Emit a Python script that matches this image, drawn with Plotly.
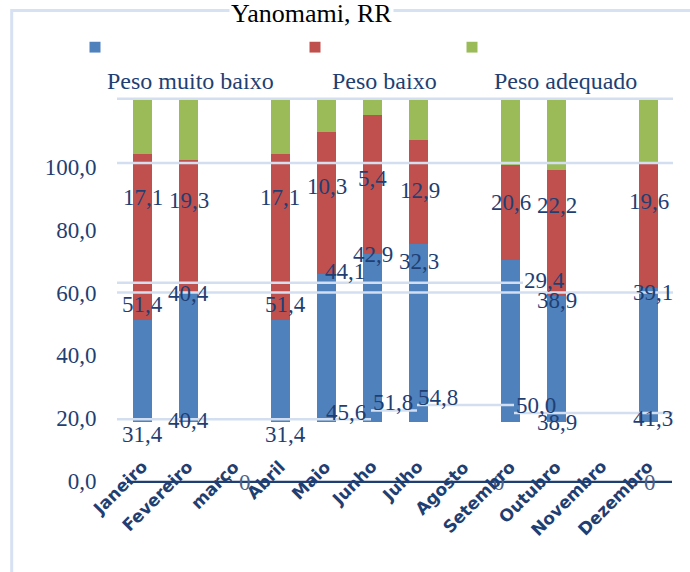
import plotly.graph_objects as go

# ---- data -------------------------------------------------------------
months = ["Janeiro", "Fevereiro", "março", "Abril", "Maio", "Junho",
          "Julho", "Agosto", "Setembro", "Outubro", "Novembro", "Dezembro"]
muito_baixo = [31.4, 40.4, 0, 31.4, 45.6, 51.8, 54.8, 0, 50.0, 38.9, 0, 41.3]
baixo = [51.4, 40.4, 0, 51.4, 44.1, 42.9, 32.3, 0, 29.4, 38.9, 0, 39.1]
adequado = [17.1, 19.3, 0, 17.1, 10.3, 5.4, 12.9, 0, 20.6, 22.2, 0, 19.6]
series_names = ["Peso muito baixo", "Peso baixo", "Peso adequado"]
y_ticks = [0, 20, 40, 60, 80, 100]
chart_title = "Yanomami, RR"

# ---- styling ----------------------------------------------------------
W, H = 690, 572
colors = ["#4f81bd", "#c0504d", "#9bbb59"]
text_color = "#1f3f73"
grid_color = "#d3dff0"
serif = "Liberation Serif"
sans = "DejaVu Sans"

# horizontal nudges (px) of the value labels, per month
dx_low = [0, 0, 10, 5, 19, 20, 19, 34, 25, 0, 47, 4]
dx_mid = [0, 0, 0, 5, 18, 0, 0, 0, 34, 0, 0, 4]
dx_top = [0, 0, 0, -1, 0, 0, 1, 0, 0, 0, 0, 0]


def px(x):
    return x / W


def py(y):
    return 1 - y / H


plot_left, plot_right = 119.5, 671.5
plot_top, plot_bottom = 100.0, 492.0

series = [muito_baixo, baixo, adequado]

fig = go.Figure()
for name, vals, col in zip(series_names, series, colors):
    fig.add_trace(go.Bar(
        x=months, y=vals, name=name, yaxis="y2",
        marker=dict(color=col, line=dict(width=0)),
        width=0.43, showlegend=False, hoverinfo="skip",
    ))

annotations = []

# value labels, centred on each segment of the left scale
for i, m in enumerate(months):
    total = muito_baixo[i] + baixo[i] + adequado[i]
    if total == 0:
        annotations.append(dict(
            x=m, xref="x", y=0, yref="y", text="0", showarrow=False,
            xshift=dx_low[i], yshift=-2,
            font=dict(family=serif, size=23, color="#4a6288")))
        continue
    base = 0.0
    for vals, shifts in zip(series, (dx_low, dx_mid, dx_top)):
        v = vals[i]
        annotations.append(dict(
            x=m, xref="x", y=base + v / 2, yref="y",
            text=f"{v:.1f}".replace(".", ","), showarrow=False,
            xshift=shifts[i], yshift=-3,
            font=dict(family=serif, size=23, color=text_color)))
        base += v

# rotated month names
for m in months:
    annotations.append(dict(
        x=m, xref="x", y=py(462), yref="paper", text=m, showarrow=False,
        textangle=-45, xanchor="right", yanchor="top", xshift=11,
        font=dict(family=sans, size=17, color=text_color, weight="bold")))

# title
annotations.append(dict(
    x=px(311), y=py(14), xref="paper", yref="paper", text=chart_title,
    showarrow=False, xanchor="center", yanchor="middle", bgcolor="white",
    font=dict(family=serif, size=26, color="black")))

# legend: marker squares with names underneath
legend_marker_x = [95, 315, 472]
legend_text_x = [191, 384, 565]
shapes = []
for name, col, mx, tx in zip(series_names, colors, legend_marker_x, legend_text_x):
    shapes.append(dict(type="rect", xref="paper", yref="paper",
                       x0=px(mx - 5.5), x1=px(mx + 5.5), y0=py(53.5), y1=py(42.5),
                       fillcolor=col, line=dict(width=0)))
    annotations.append(dict(
        x=px(tx), y=py(82), xref="paper", yref="paper", text=name,
        showarrow=False, xanchor="center", yanchor="middle",
        font=dict(family=serif, size=24, color=text_color)))

# chart-area border
shapes.append(dict(type="rect", xref="paper", yref="paper", layer="below",
                   x0=px(11.7), x1=1.1, y0=-0.1, y1=py(10.7),
                   line=dict(color="#d6e1f1", width=3), fillcolor="rgba(0,0,0,0)"))

# horizontal grid segments (x0 px, x1 px, y px)
grid_segments = [
    (117, 673, 100.5), (117, 673, 166.0), (117, 523, 287.7), (117, 673, 297.7),
    (117, 371, 426.7), (371, 417, 417.7), (417, 514, 412.3), (514, 673, 420.4),
]
for x0, x1, y in grid_segments:
    shapes.append(dict(type="line", xref="paper", yref="paper", layer="above",
                       x0=px(x0), x1=px(x1), y0=py(y), y1=py(y),
                       line=dict(color=grid_color, width=2.5)))

# category axis line
shapes.append(dict(type="line", xref="paper", yref="paper", layer="above",
                   x0=px(127), x1=px(672), y0=py(490.5), y1=py(490.5),
                   line=dict(color=text_color, width=2.4)))

# left scale: 0 at 489 px, 3.186 px per unit
left_range = [(489 - plot_bottom) / 3.186, (489 - plot_top) / 3.186]
# bar scale: base at 429.3 px, 100 at the top of the plot area
bar_slope = (429.3 - plot_top) / 100
bar_range = [-(plot_bottom - 429.3) / bar_slope, 100]

fig.update_layout(
    width=W, height=H,
    margin=dict(l=0, r=0, t=0, b=0),
    paper_bgcolor="white", plot_bgcolor="rgba(0,0,0,0)",
    barmode="stack", separators=",.",
    xaxis=dict(type="category", categoryorder="array", categoryarray=months,
               range=[-0.5, 11.5], domain=[px(plot_left), px(plot_right)],
               showticklabels=False, showgrid=False, zeroline=False,
               showline=False, ticks=""),
    yaxis=dict(range=left_range, domain=[py(plot_bottom), py(plot_top)],
               tickvals=y_ticks, tickformat=".1f", showgrid=False,
               zeroline=False, showline=False, ticks="",
               ticklabelstandoff=22,
               tickfont=dict(family=serif, size=23, color=text_color)),
    yaxis2=dict(range=bar_range, overlaying="y", visible=False,
                showgrid=False, zeroline=False),
    annotations=annotations,
    shapes=shapes,
    font=dict(family=serif),
)

fig.write_html("out.html")
